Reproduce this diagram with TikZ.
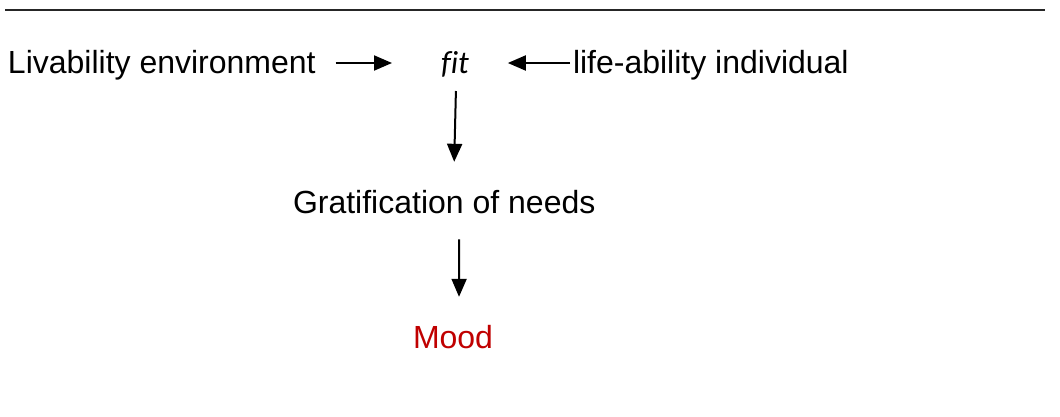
\documentclass[tikz,border=0pt]{standalone}
\usepackage{fontspec}
\setmainfont{Liberation Sans}
\newfontfamily\calib[Ligatures=NoCommon]{Carlito}
\usetikzlibrary{arrows.meta,calc}
\definecolor{moodred}{HTML}{C00000}
\tikzset{
  lbl/.style={inner sep=0pt, outer sep=0pt, anchor=base west, font=\fontsize{32}{38}\selectfont},
  arr/.style={line width=2pt, -{Triangle[length=18pt,width=15pt]}}
}
\begin{document}
\begin{tikzpicture}[x=1pt,y=-1pt]
\useasboundingbox (0,0) rectangle (1060,416);
\fill[white] (0,0) rectangle (1060,416);
\draw[line width=2pt, black!85] (5,9.5) -- (1045,9.5);
\node[lbl] (liv) at (8,73) {Livability environment};
\node[lbl, font=\fontsize{32}{38}\calib\itshape] (fit) at (441,73) {f{}it};
\node[lbl] (life) at (573,73) {life-ability individual};
\node[lbl] (grat) at (293,213) {Gratification of needs};
\node[lbl, text=moodred] (mood) at (413,348) {Mood};
\draw[arr] ([shift={(20,-10)}]liv.base east) -- ([shift={(-49,-10)}]fit.base west);
\draw[arr] ([shift={(-3,-10)}]life.base west) -- ([shift={(39,-10)}]fit.base east);
\draw[arr] ([shift={(1,18)}]fit.base) -- ([shift={(10,-28)}]grat.north);
\draw[arr] ([shift={(15,26)}]grat.south) -- ([shift={(6,-28)}]mood.north);
\end{tikzpicture}
\end{document}
